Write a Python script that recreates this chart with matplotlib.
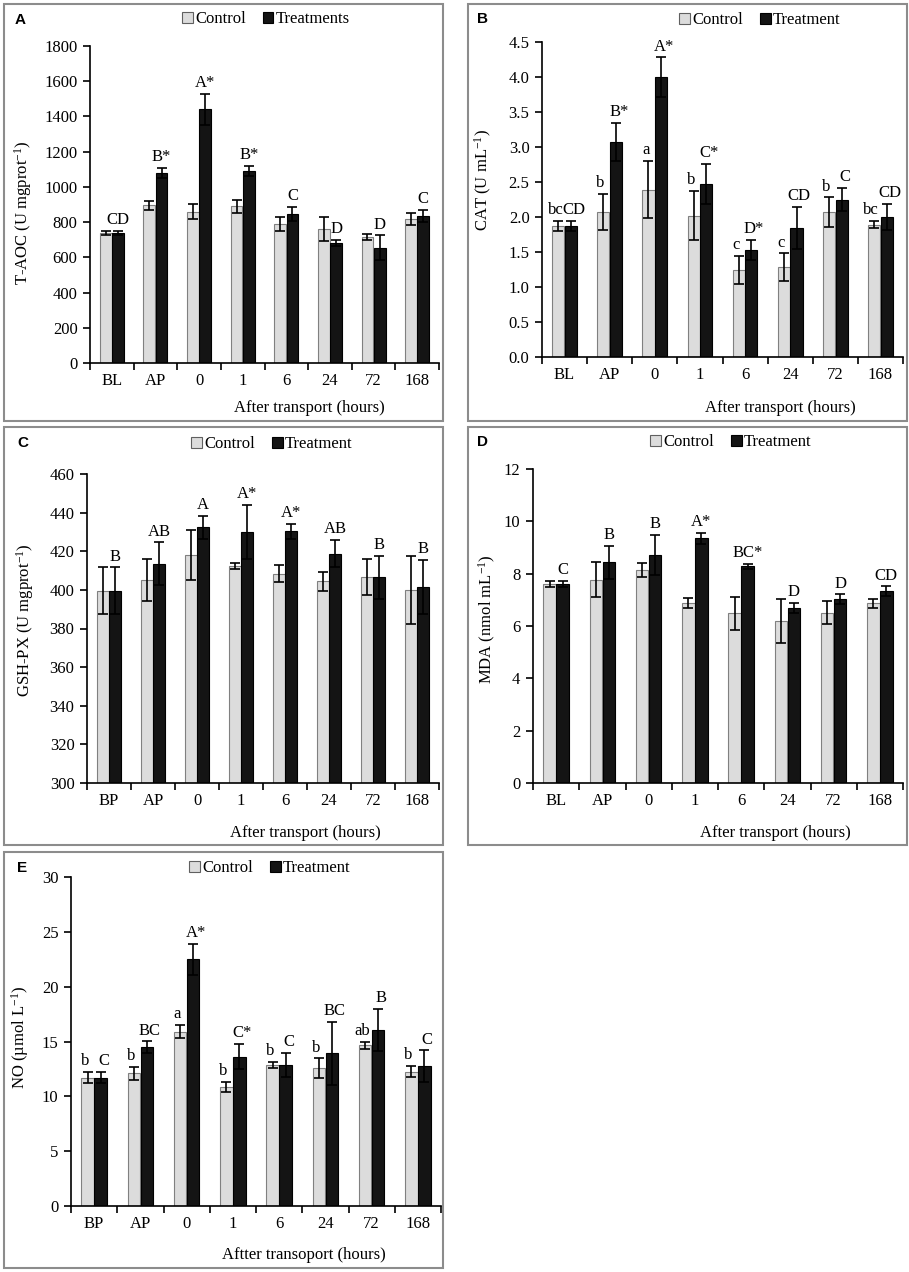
import numpy as np
import matplotlib
matplotlib.use("Agg")
import matplotlib.pyplot as plt
from matplotlib.patches import Rectangle, Patch

plt.rcParams['font.family'] = ['Liberation Serif', 'DejaVu Serif']
plt.rcParams['mathtext.fontset'] = 'custom'
plt.rcParams['mathtext.rm'] = 'Liberation Serif'
plt.rcParams['mathtext.it'] = 'Liberation Serif:italic'

# ---- data ----
cats_bl = ["BL", "AP", "0", "1", "6", "24", "72", "168"]
cats_bp = ["BP", "AP", "0", "1", "6", "24", "72", "168"]

taoc_ctrl = [740, 895, 860, 890, 790, 760, 715, 818]
taoc_ctrl_err = [12, 25, 42, 38, 38, 70, 18, 35]
taoc_trt = [740, 1080, 1440, 1090, 845, 682, 655, 835]
taoc_trt_err = [12, 30, 90, 30, 40, 15, 70, 35]
taoc_trt_letters = ["CD", "B*", "A*", "B*", "C", "D", "D", "C"]

cat_ctrl = [1.87, 2.07, 2.39, 2.02, 1.25, 1.28, 2.07, 1.89]
cat_ctrl_err = [0.07, 0.26, 0.41, 0.35, 0.20, 0.20, 0.21, 0.05]
cat_trt = [1.87, 3.07, 4.00, 2.47, 1.53, 1.84, 2.25, 2.00]
cat_trt_err = [0.07, 0.27, 0.28, 0.29, 0.14, 0.30, 0.17, 0.19]
cat_ctrl_letters = ["bc", "b", "a", "b", "c", "c", "b", "bc"]
cat_trt_letters = ["CD", "B*", "A*", "C*", "D*", "CD", "C", "CD"]

gsh_ctrl = [399.6, 405.0, 418.2, 412.5, 408.4, 404.4, 406.8, 400.1]
gsh_ctrl_err = [12, 11, 13, 1.5, 4.5, 5, 9.3, 17.6]
gsh_trt = [399.6, 413.6, 432.4, 430.0, 430.3, 418.7, 406.5, 401.7]
gsh_trt_err = [12, 11, 6, 14, 4, 7, 11, 14]
gsh_trt_letters = ["B", "AB", "A", "A*", "A*", "AB", "B", "B"]

mda_ctrl = [7.60, 7.77, 8.15, 6.87, 6.49, 6.20, 6.51, 6.87]
mda_ctrl_err = [0.12, 0.68, 0.27, 0.19, 0.63, 0.85, 0.45, 0.17]
mda_trt = [7.60, 8.43, 8.70, 9.35, 8.28, 6.68, 7.02, 7.33]
mda_trt_err = [0.12, 0.64, 0.77, 0.20, 0.09, 0.19, 0.19, 0.18]
mda_trt_letters = ["C", "B", "B", "A*", "BC*", "D", "D", "CD"]

no_ctrl = [11.70, 12.10, 15.90, 10.85, 12.85, 12.55, 14.65, 12.25]
no_ctrl_err = [0.50, 0.58, 0.62, 0.45, 0.26, 0.90, 0.30, 0.50]
no_trt = [11.70, 14.47, 22.49, 13.62, 12.85, 13.92, 16.05, 12.77]
no_trt_err = [0.50, 0.55, 1.40, 1.14, 1.10, 2.90, 1.90, 1.42]
no_ctrl_letters = ["b", "b", "a", "b", "b", "b", "ab", "b"]
no_trt_letters = ["C", "BC", "A*", "C*", "C", "BC", "B", "C"]

W, H = 909, 1272
fig = plt.figure(figsize=(W / 100, H / 100), dpi=100)


def fx(x):
    return x / W


def fy(y):
    return 1 - y / H


def draw_panel(box, axbox, letter, letter_xy, legend_xy, trt_name,
               ctrl, ctrl_err, trt, trt_err, cats, yticks, ylim, yfmt,
               ylabel, ylabel_xy, xlabel, xlabel_xy,
               trt_letters, ctrl_letters=None):
    # grey frame round the panel
    x0, y0, x1, y1 = box
    fig.add_artist(Rectangle((fx(x0), fy(y1)), (x1 - x0) / W, (y1 - y0) / H,
                             transform=fig.transFigure, fill=False,
                             edgecolor='#8c8c8c', lw=1.5))
    left, top, right, bottom = axbox
    ax = fig.add_axes([fx(left), fy(bottom), (right - left) / W, (bottom - top) / H])

    x = np.arange(len(cats))
    w = 0.27
    ekw = dict(ecolor='black', elinewidth=1.2, capsize=3.5, capthick=1.2)
    ax.bar(x - 0.14, ctrl, w, yerr=ctrl_err, color='#dcdcdc',
           edgecolor='#808080', lw=0.8, error_kw=ekw, zorder=2)
    ax.bar(x + 0.14, trt, w, yerr=trt_err, color='#141414',
           edgecolor='black', lw=0.8, error_kw=ekw, zorder=2)

    # letters sit just above the error bars; nudge apart when both are shown
    dx = 0 if ctrl_letters is None else 2
    for i in range(len(cats)):
        ax.annotate(trt_letters[i], (x[i] + 0.14, trt[i] + trt_err[i]),
                    xytext=(dx, 2), textcoords='offset points',
                    ha='center', va='bottom', fontsize=12)
        if ctrl_letters is not None:
            ax.annotate(ctrl_letters[i], (x[i] - 0.14, ctrl[i] + ctrl_err[i]),
                        xytext=(-dx, 2), textcoords='offset points',
                        ha='center', va='bottom', fontsize=12)

    ax.set_xlim(-0.5, len(cats) - 0.5)
    ax.set_ylim(*ylim)
    ax.set_yticks(yticks)
    ax.set_yticklabels([yfmt % v for v in yticks], fontsize=12)
    ax.set_xticks(x)
    ax.set_xticklabels(cats, fontsize=12)
    ax.set_xticks(np.arange(-0.5, len(cats), 1), minor=True)
    ax.tick_params(axis='x', which='major', length=0, pad=7)
    ax.tick_params(axis='x', which='minor', length=5, width=1.2, direction='out')
    ax.tick_params(axis='y', length=5, width=1.2, direction='out', pad=4)
    for s in ['top', 'right']:
        ax.spines[s].set_visible(False)
    for s in ['left', 'bottom']:
        ax.spines[s].set_linewidth(1.2)

    fig.text(fx(letter_xy[0]), fy(letter_xy[1]), letter, ha='center', va='center',
             fontsize=11, fontweight='bold', family='Liberation Sans')
    fig.text(fx(ylabel_xy[0]), fy(ylabel_xy[1]), ylabel, rotation=90,
             ha='center', va='center', fontsize=12)
    fig.text(fx(xlabel_xy[0]), fy(xlabel_xy[1]), xlabel,
             ha='center', va='center', fontsize=12)

    handles = [Patch(facecolor='#dcdcdc', edgecolor='#606060', lw=0.8),
               Patch(facecolor='#141414', edgecolor='black', lw=0.8)]
    ax.legend(handles, ['Control', trt_name], ncol=2, frameon=False,
              loc='center', bbox_to_anchor=(fx(legend_xy[0]), fy(legend_xy[1])),
              bbox_transform=fig.transFigure, fontsize=12,
              handlelength=0.65, handleheight=0.65, handletextpad=0.15,
              columnspacing=1.0, borderpad=0)
    return ax


draw_panel((4, 4, 443, 421), (90, 46, 439, 363), 'A', (20, 20), (266, 19),
           'Treatments', taoc_ctrl, taoc_ctrl_err, taoc_trt, taoc_trt_err,
           cats_bl, np.arange(0, 1801, 200), (0, 1800), '%d',
           r'T-AOC (U mgprot$^{\mathrm{-1}}$)', (23, 213),
           'After transport (hours)', (309, 408), taoc_trt_letters)

draw_panel((468, 4, 907, 421), (542, 42, 903, 357), 'B', (482, 19), (760, 20),
           'Treatment', cat_ctrl, cat_ctrl_err, cat_trt, cat_trt_err,
           cats_bl, np.arange(0, 4.51, 0.5), (0, 4.5), '%.1f',
           r'CAT (U mL$^{\mathrm{-1}}$)', (483, 180),
           'After transport (hours)', (780, 408), cat_trt_letters, cat_ctrl_letters)

draw_panel((4, 427, 443, 845), (87, 474, 439, 783), 'C', (23, 443), (272, 444),
           'Treatment', gsh_ctrl, gsh_ctrl_err, gsh_trt, gsh_trt_err,
           cats_bp, np.arange(300, 461, 20), (300, 460), '%d',
           r'GSH-PX (U mgprot$^{\mathrm{-1}}$)', (25, 620),
           'After transport (hours)', (305, 833), gsh_trt_letters)

draw_panel((468, 427, 907, 845), (533, 469, 903, 783), 'D', (483, 442), (731, 442),
           'Treatment', mda_ctrl, mda_ctrl_err, mda_trt, mda_trt_err,
           cats_bl, np.arange(0, 13, 2), (0, 12), '%d',
           r'MDA (nmol mL$^{\mathrm{-1}}$)', (487, 619),
           'After transport (hours)', (775, 833), mda_trt_letters)

draw_panel((4, 852, 443, 1268), (71, 877, 441, 1206), 'E', (22, 868), (270, 868),
           'Treatment', no_ctrl, no_ctrl_err, no_trt, no_trt_err,
           cats_bp, np.arange(0, 31, 5), (0, 30), '%d',
           r'NO (µmol L$^{\mathrm{-1}}$)', (20, 1037),
           'Aftter transoport (hours)', (304, 1255), no_trt_letters, no_ctrl_letters)

fig.savefig('out.png', dpi=100)
